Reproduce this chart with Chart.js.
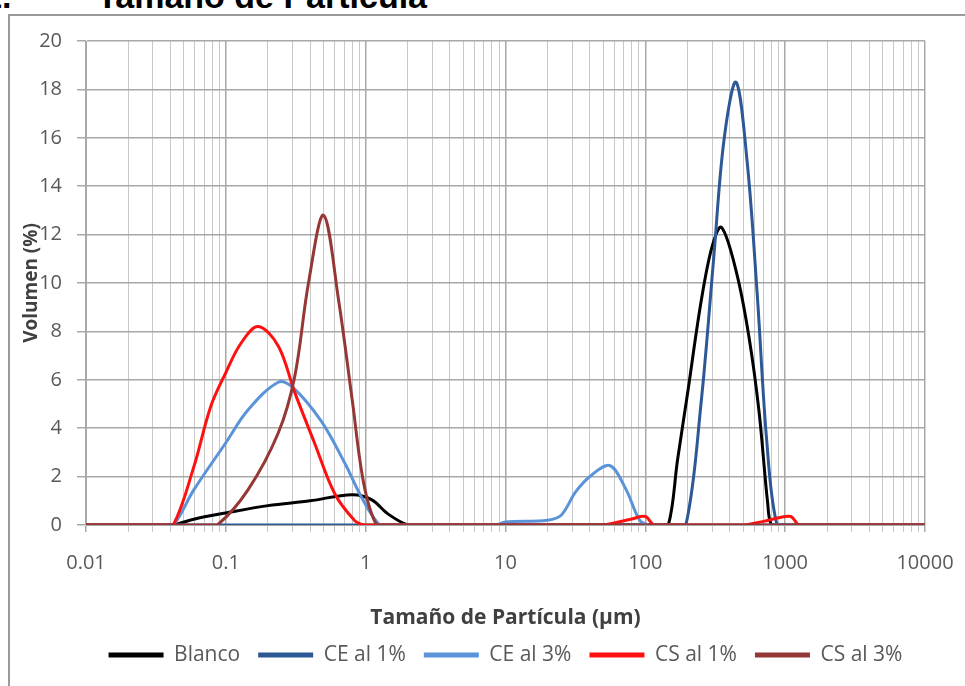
<!DOCTYPE html>
<html>
<head>
<meta charset="utf-8">
<script src="https://cdn.jsdelivr.net/npm/chart.js@4/dist/chart.umd.min.js"></script>
<style>
  html, body { margin: 0; padding: 0; background: #fff; overflow: hidden; }
  #wrap { position: relative; width: 965px; height: 686px; overflow: hidden; }
  #frame { position: absolute; left: 8px; top: 14px; width: 1100px; height: 800px; border: 2px solid #9a9a9a; box-sizing: border-box; }
  .ttl { position: absolute; top: -21px; font: bold 34px "Liberation Sans", Arial, sans-serif; line-height: 34px; color: #000; white-space: nowrap; }
  canvas { position: absolute; left: 0; top: 0; }
</style>
</head>
<body>
<div id="wrap">
  <div id="frame"></div>
  <div class="ttl" style="left:-17px">1.</div>
  <div class="ttl" style="left:97px">Tamaño de Partícula</div>
  <canvas id="chart" width="965" height="700"></canvas>
</div>
<script>
// tamaño (µm) y volumen (%) de cada muestra
const blancoX = [0.01, 0.035, 0.042, 0.06, 0.1, 0.2, 0.4, 0.8, 1.1, 1.45, 2.0, 2.4, 125, 146, 170, 200, 250, 300, 350, 450, 550, 650, 750, 800, 950, 10000];
const blancoY = [0, 0, 0, 0.25, 0.5, 0.8, 1.0, 1.25, 1.05, 0.45, 0, 0, 0, 0, 2.7, 5.4, 9.2, 11.5, 12.3, 10.4, 7.8, 4.7, 0.9, 0, 0, 0];

const ce1X = [0.01, 160, 195, 250, 308, 365, 445, 535, 630, 740, 875, 1050, 10000];
const ce1Y = [0, 0, 0, 5.0, 11.0, 15.9, 18.3, 15.0, 9.6, 3.4, 0, 0, 0];

const ce3X = [0.01, 0.035, 0.042, 0.059, 0.1, 0.144, 0.237, 0.3, 0.48, 0.71, 0.93, 1.26, 1.5, 7, 8.5, 10, 20, 25, 32, 42, 56, 73, 91, 105, 125, 10000];
const ce3Y = [0, 0, 0, 1.45, 3.4, 4.75, 5.9, 5.7, 4.3, 2.55, 1.17, 0, 0, 0, 0, 0.12, 0.2, 0.4, 1.4, 2.1, 2.45, 1.45, 0.2, 0, 0, 0];

const cs1X = [0.01, 0.035, 0.042, 0.059, 0.078, 0.1, 0.128, 0.17, 0.237, 0.31, 0.43, 0.6, 0.83, 0.97, 1.15, 42, 50, 80, 100, 115, 135, 420, 500, 700, 900, 1100, 1250, 1450, 10000];
const cs1Y = [0, 0, 0, 2.4, 4.9, 6.3, 7.5, 8.2, 7.4, 5.5, 3.4, 1.3, 0.2, 0, 0, 0, 0, 0.25, 0.35, 0, 0, 0, 0, 0.15, 0.3, 0.35, 0, 0, 0];

const cs3X = [0.01, 0.072, 0.087, 0.144, 0.237, 0.31, 0.39, 0.5, 0.64, 0.8, 0.97, 1.2, 1.45, 10000];
const cs3Y = [0, 0, 0, 1.45, 3.8, 6.1, 10.0, 12.8, 9.3, 5.2, 1.7, 0, 0, 0];

const seriesNames = ['Blanco', 'CE al 1%', 'CE al 3%', 'CS al 1%', 'CS al 3%'];
const seriesColors = ['#000000', '#2d5896', '#5b93d8', '#ff1010', '#953735'];

const xDecades = [0.01, 0.1, 1, 10, 100, 1000, 10000];
const xTickLabels = ['0.01', '0.1', '1', '10', '100', '1000', '10000'];

const toPoints = (xs, ys) => xs.map((x, i) => ({ x: x, y: ys[i] }));
const allX = [blancoX, ce1X, ce3X, cs1X, cs3X];
const allY = [blancoY, ce1Y, ce3Y, cs1Y, cs3Y];

const datasets = seriesNames.map((name, i) => ({
    label: name,
    data: toPoints(allX[i], allY[i]),
    borderColor: seriesColors[i],
    backgroundColor: seriesColors[i],
    borderWidth: 3,
    showLine: true,
    pointRadius: 0,
    tension: 0.35,
    order: seriesNames.length - i  // la última serie queda encima, como en Excel
}));

const isDecade = v => xDecades.some(d => Math.abs(v - d) / d < 1e-6);

const font = 'Open Sans';

const chart = new Chart(document.getElementById('chart'), {
    type: 'scatter',
    data: { datasets: datasets },
    options: {
        responsive: false,
        animation: false,
        layout: { padding: { left: 16, right: 40, top: 41, bottom: 24.5 } },
        plugins: {
            tooltip: { enabled: false },
            legend: {
                position: 'bottom',
                fullSize: false,
                labels: {
                    boxWidth: 55,
                    boxHeight: 5,
                    padding: 18,
                    color: '#595959',
                    font: { family: font, size: 21 },
                    sort: (a, b) => a.datasetIndex - b.datasetIndex,
                    generateLabels: ch => ch.data.datasets.map((ds, i) => ({
                        text: ds.label,
                        fillStyle: ds.borderColor,
                        strokeStyle: ds.borderColor,
                        lineWidth: 0,
                        fontColor: '#595959',
                        hidden: false,
                        datasetIndex: i
                    }))
                }
            }
        },
        scales: {
            x: {
                type: 'logarithmic',
                min: 0.01,
                max: 10000,
                afterFit: s => { s.height = 101.5; s.paddingLeft = 0; s.paddingRight = 0; },
                afterBuildTicks: s => {
                    const t = [];
                    xDecades.forEach((d, k) => {
                        if (k === xDecades.length - 1) { t.push({ value: d }); return; }
                        for (let m = 1; m < 10; m++) t.push({ value: Number((m * d).toPrecision(3)) });
                    });
                    s.ticks = t;
                },
                ticks: {
                    autoSkip: false,
                    maxRotation: 0,
                    padding: 19,
                    color: '#595959',
                    font: { family: font, size: 20 },
                    callback: v => {
                        const k = xDecades.findIndex(d => Math.abs(v - d) / d < 1e-6);
                        return k >= 0 ? xTickLabels[k] : '';
                    }
                },
                grid: {
                    tickLength: 7,
                    color: c => (c.tick && isDecade(c.tick.value)) ? '#a8a8a8' : '#c8c8c8',
                    lineWidth: c => (c.tick && isDecade(c.tick.value)) ? 1.5 : 1
                },
                border: { color: '#a8a8a8' },
                title: {
                    display: true,
                    text: 'Tamaño de Partícula (µm)',
                    color: '#404040',
                    padding: { top: 4, bottom: -4 },
                    font: { family: font, size: 21, weight: 'bold' }
                }
            },
            y: {
                min: 0,
                max: 20,
                afterFit: s => { s.width = 70; },
                ticks: {
                    stepSize: 2,
                    padding: 15,
                    color: '#595959',
                    font: { family: font, size: 20 }
                },
                grid: { tickLength: 9, color: '#a8a8a8', lineWidth: 1.5 },
                border: { color: '#a8a8a8' },
                title: {
                    display: true,
                    text: 'Volumen (%)',
                    color: '#404040',
                    padding: { top: 4, bottom: 4 },
                    font: { family: font, size: 19, weight: 'bold' }
                }
            }
        }
    }
});
</script>
</body>
</html>
